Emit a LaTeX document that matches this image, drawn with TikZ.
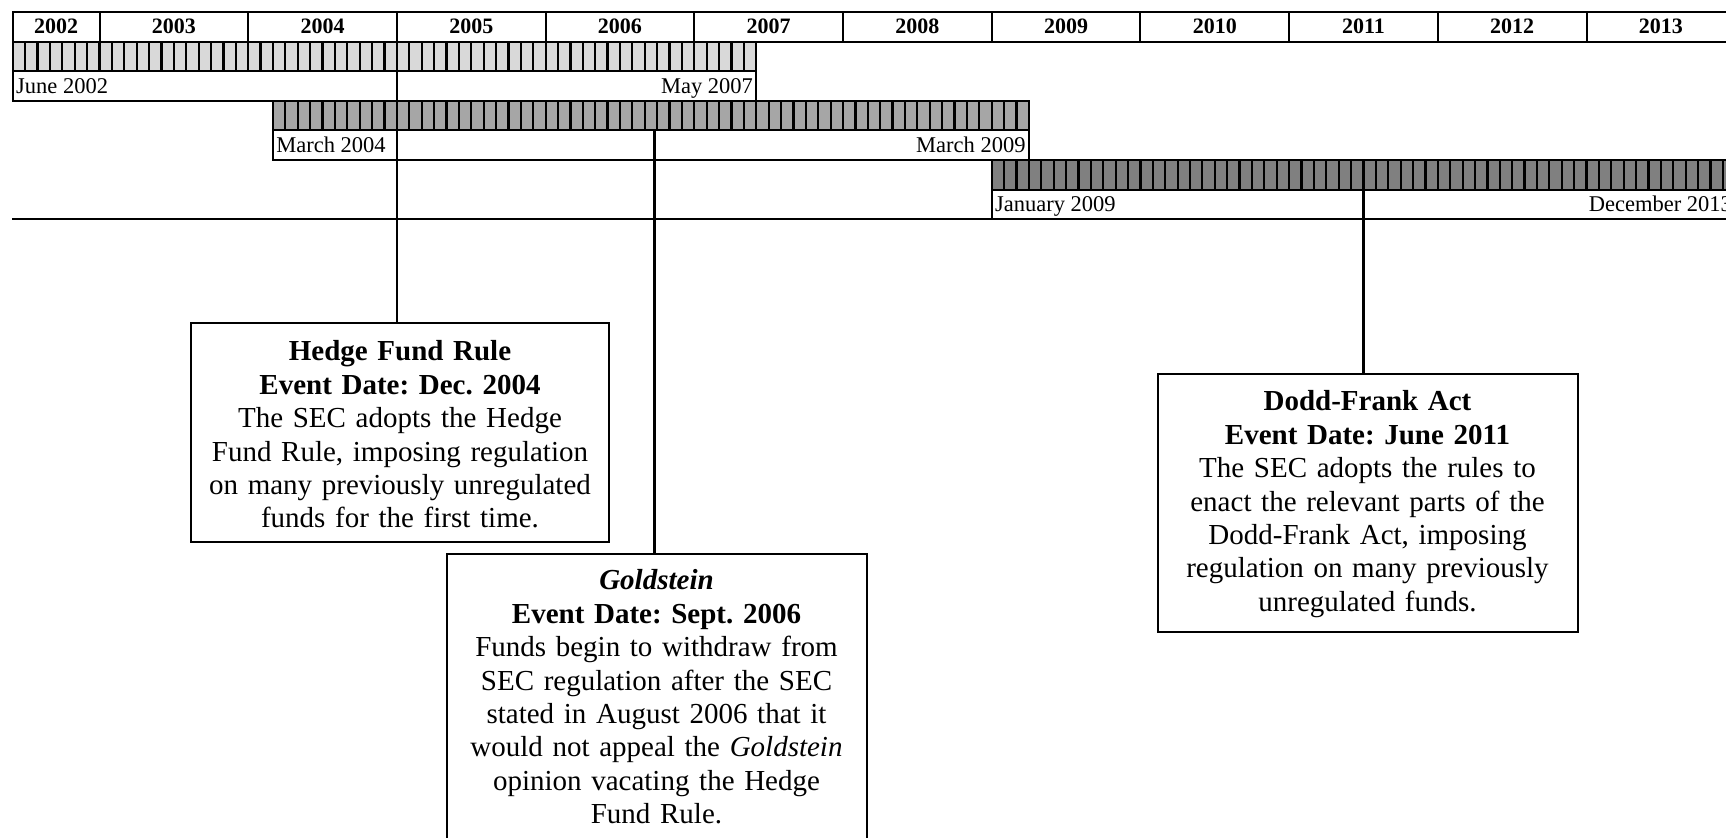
\documentclass[tikz,border=0pt]{standalone}
\usepackage{fontspec}
\setmainfont{Liberation Serif}
\definecolor{barA}{RGB}{217,217,217}
\definecolor{barB}{RGB}{166,166,166}
\definecolor{barC}{RGB}{128,128,128}
\newcommand{\monthx}[1]{99.5+12.392*(#1)}
\frenchspacing
\begin{document}
\begin{tikzpicture}[x=0.5pt,y=-0.5pt,
  frame/.style={draw=black, line width=1pt},
  tickline/.style={draw=black, line width=1.1pt},
  yearlbl/.style={font=\fontsize{11}{13}\selectfont\bfseries, inner sep=0pt, anchor=base},
  datelbl/.style={font=\fontsize{11.25}{13}\selectfont, inner xsep=1.5pt, inner ysep=0pt},
  conn/.style={draw=black, line width=1.2pt},
  evbox/.style={draw=black, line width=1pt, fill=white, inner sep=0pt, align=center,
    anchor=north, font=\fontsize{14.5}{16.7}\selectfont}
]
\useasboundingbox (0,0) rectangle (1726,838);
\clip (0,0) rectangle (1726,838);

% header
\draw[frame] ({\monthx{-7}},12) rectangle ({\monthx{132}},41.6);
\foreach \t in {0,12,...,120} \draw[frame] ({\monthx{\t}},12) -- ({\monthx{\t}},41.6);
\node[yearlbl] (y2002) at (56.1,33.5) {2002};
\foreach \yr in {2003,...,2013} {
  \pgfmathsetmacro{\tc}{(\yr-2003)*12+6}
  \node[yearlbl] (y\yr) at ({\monthx{\tc}},33.5) {\yr};
}

% row 1: June 2002 - May 2007
\filldraw[fill=barA, frame] ({\monthx{-7}},41.6) rectangle ({\monthx{53}},71.2);
\foreach \t in {-6,...,52} \draw[tickline] ({\monthx{\t}},41.6) -- ({\monthx{\t}},71.2);
\draw[frame] ({\monthx{-7}},71.2) rectangle ({\monthx{53}},100.8);
\node[datelbl, anchor=base west] (r1s) at ({\monthx{-7}},93.2) {June 2002};
\node[datelbl, anchor=base east] (r1e) at ({\monthx{53}},93.2) {May 2007};

% row 2: March 2004 - March 2009
\filldraw[fill=barB, frame] ({\monthx{14}},100.8) rectangle ({\monthx{75}},130.4);
\foreach \t in {15,...,74} \draw[tickline] ({\monthx{\t}},100.8) -- ({\monthx{\t}},130.4);
\draw[frame] ({\monthx{14}},130.4) rectangle ({\monthx{75}},160);
\node[datelbl, anchor=base west] (r2s) at ({\monthx{14}},152.4) {March 2004};
\node[datelbl, anchor=base east] (r2e) at ({\monthx{75}},152.4) {March 2009};

% row 3: January 2009 - December 2013
\filldraw[fill=barC, frame] ({\monthx{72}},160) rectangle ({\monthx{132}},189.6);
\foreach \t in {73,...,131} \draw[tickline] ({\monthx{\t}},160) -- ({\monthx{\t}},189.6);
\draw[frame] ({\monthx{72}},189.6) rectangle ({\monthx{132}},219.2);
\node[datelbl, anchor=base west] (r3s) at ({\monthx{72}},211.6) {January 2009};
\node[datelbl, anchor=base east] (r3e) at ({\monthx{132}},211.6) {December 2013};

% base line
\draw[frame] (12,219.2) -- (1740,219.2);

% event boxes
\node[evbox, text width=208.75pt, text height=19pt, text depth=90.5pt] (hf) at (400,322)
  {\textbf{Hedge Fund Rule}\\ \textbf{Event Date: Dec. 2004}\\ The SEC adopts the Hedge\\
   Fund Rule, imposing regulation\\ on many previously unregulated\\ funds for the first time.};
\node[evbox, text width=210pt, text height=18pt, text depth=182pt] (gs) at (656.5,553)
  {\textbf{\textit{Goldstein}}\\ \textbf{Event Date: Sept. 2006}\\ Funds begin to withdraw from\\
   SEC regulation after the SEC\\ stated in August 2006 that it\\ would not appeal the \textit{Goldstein}\\
   opinion vacating the Hedge\\ Fund Rule.};
\node[evbox, text width=210pt, text height=18.5pt, text depth=110.5pt] (df) at (1367.5,373)
  {\textbf{Dodd-Frank Act}\\ \textbf{Event Date: June 2011}\\ The SEC adopts the rules to\\
   enact the relevant parts of the\\ Dodd-Frank Act, imposing\\ regulation on many previously\\
   unregulated funds.};

% connectors
\coordinate (hfTop) at (397,71.2);
\coordinate (gsTop) at (654.5,130.4);
\coordinate (dfTop) at (1363.5,189.6);
\draw[conn] (hfTop) -- (hfTop |- hf.north);
\draw[conn] (gsTop) -- (gsTop |- gs.north);
\draw[conn] (dfTop) -- (dfTop |- df.north);
\end{tikzpicture}
\end{document}
